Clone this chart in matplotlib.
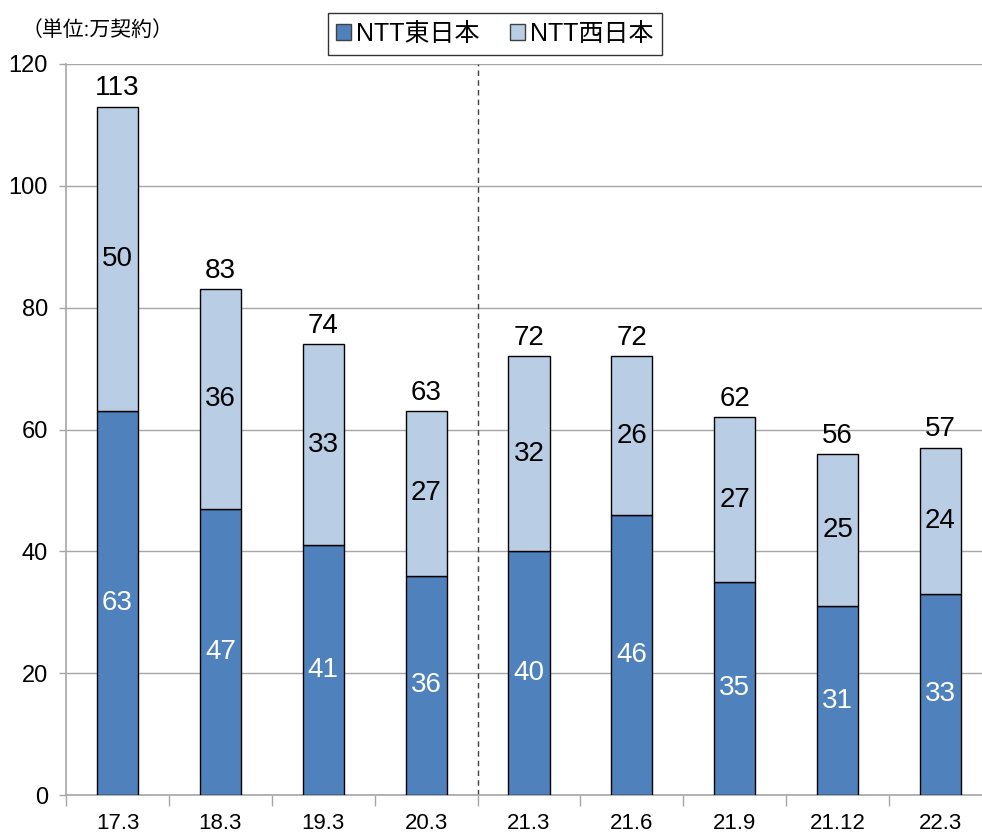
import matplotlib
matplotlib.use('Agg')
import matplotlib.pyplot as plt
import numpy as np
from matplotlib.patches import Patch

plt.rcParams['font.family'] = ['Liberation Sans Narrow', 'Liberation Sans', 'Noto Sans CJK JP', 'DejaVu Sans']

categories = ['17.3', '18.3', '19.3', '20.3', '21.3', '21.6', '21.9', '21.12', '22.3']
east = [63, 47, 41, 36, 40, 46, 35, 31, 33]
west = [50, 36, 33, 27, 32, 26, 27, 25, 24]
totals = [113, 83, 74, 63, 72, 72, 62, 56, 57]

c_east = '#4F81BD'
c_west = '#B9CDE5'
grid_c = '#A6A6A6'

fig = plt.figure(figsize=(9.82, 8.33), dpi=100)
ax = fig.add_axes([66 / 982, 38 / 833, 926 / 982, 731 / 833])

x = np.arange(len(categories))
ax.bar(x, east, width=0.4, color=c_east, edgecolor='black', linewidth=1, zorder=3)
ax.bar(x, west, width=0.4, bottom=east, color=c_west, edgecolor='black', linewidth=1, zorder=3)

for i in range(len(x)):
    ax.text(x[i], east[i] / 2, str(east[i]), ha='center', va='center', color='white', fontsize=20, zorder=4)
    ax.text(x[i], east[i] + west[i] / 2, str(west[i]), ha='center', va='center', color='black', fontsize=20, zorder=4)
    ax.text(x[i], totals[i] + 3, str(totals[i]), ha='center', va='center', color='black', fontsize=20, zorder=4)

ax.set_xlim(-0.5, len(categories) - 0.5)
ax.set_ylim(0, 120)
ax.set_yticks(np.arange(0, 121, 20))
ax.yaxis.grid(True, color=grid_c, linewidth=1, zorder=0)
ax.set_axisbelow(True)

ax.set_xticks(x)
ax.set_xticklabels(categories, fontsize=16)
ax.set_xticks(np.arange(-0.5, len(categories), 1), minor=True)
ax.tick_params(axis='x', which='major', length=0, pad=13)
ax.tick_params(axis='x', which='minor', length=8, color=grid_c, width=1)
ax.tick_params(axis='y', length=5, color=grid_c, width=1, labelsize=17, pad=8)

for s in ['top', 'right']:
    ax.spines[s].set_visible(False)
for s in ['left', 'bottom']:
    ax.spines[s].set_color(grid_c)
    ax.spines[s].set_linewidth(1.2)

ax.axvline(3.5, color='#404040', linestyle=(0, (4, 3)), linewidth=1, zorder=2)

handles = [Patch(facecolor=c_east, edgecolor='#404040', label='NTT東日本'),
           Patch(facecolor=c_west, edgecolor='#404040', label='NTT西日本')]
leg = fig.legend(handles=handles, loc='center', bbox_to_anchor=(495 / 982, 1 - 34 / 833), ncol=2,
                 fontsize=18, frameon=True, fancybox=False, edgecolor='black', handlelength=0.6,
                 handleheight=0.6, handletextpad=0.2, columnspacing=1.2, borderpad=0.35)
leg.get_frame().set_linewidth(1)

fig.text(22 / 982, 1 - 30 / 833, '（単位:万契約）', fontsize=15, ha='left', va='center')

fig.savefig('out.png', dpi=100)
